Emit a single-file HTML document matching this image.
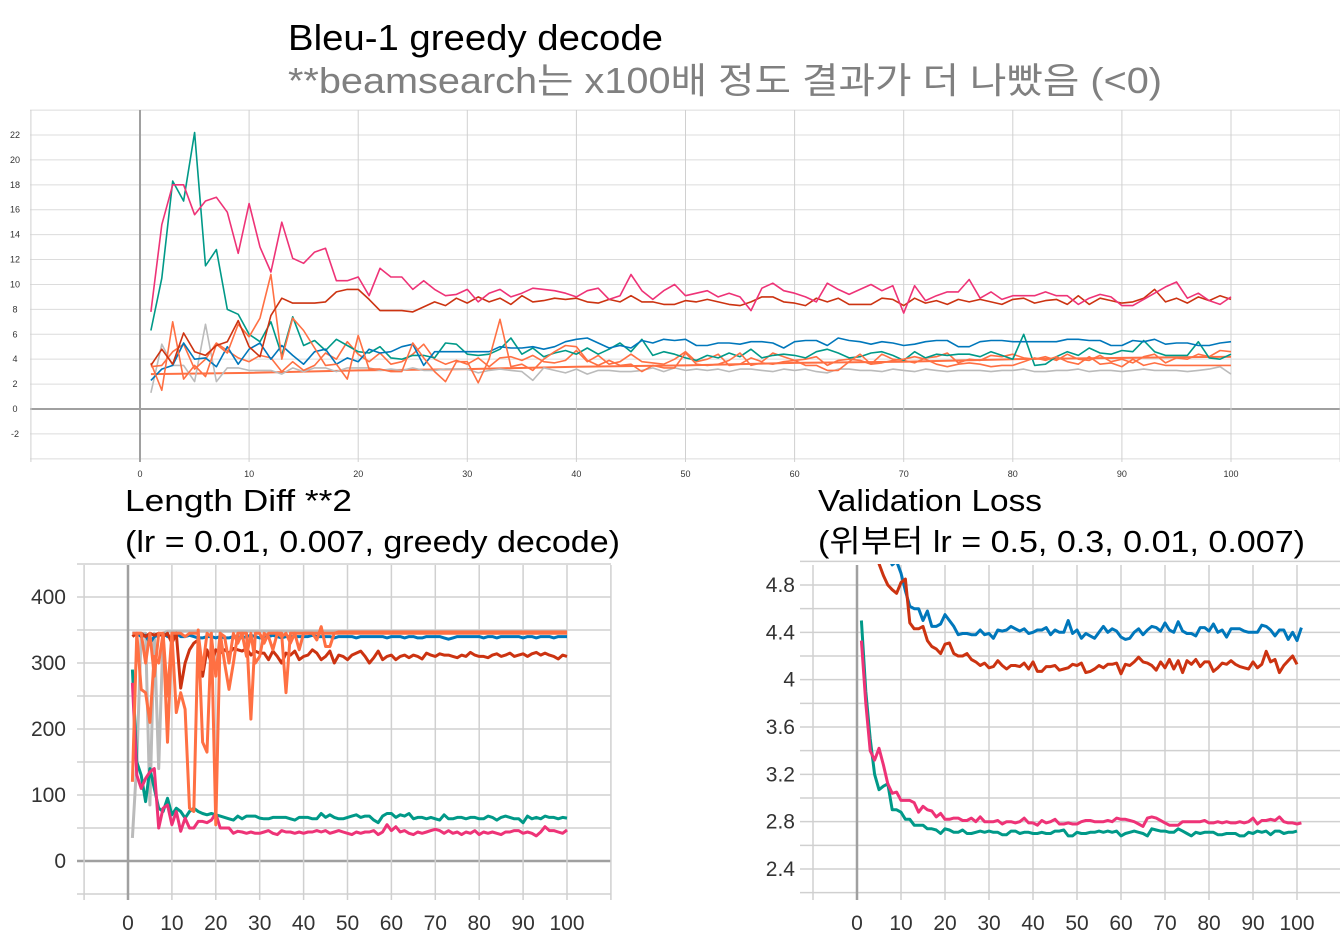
<!DOCTYPE html>
<html><head><meta charset="utf-8">
<style>
html,body{margin:0;padding:0;background:#fff;width:1340px;height:935px;overflow:hidden}
svg{display:block}
text{font-family:"Liberation Sans","Noto Sans CJK KR",sans-serif}
</style></head>
<body>
<svg id="root" width="1340" height="935" viewBox="0 0 1340 935">
  <g>
    <text x="288" y="50" font-size="36" fill="#000" textLength="375" lengthAdjust="spacingAndGlyphs">Bleu-1 greedy decode</text>
    <text x="288" y="93" font-size="36" fill="#808080" textLength="874" lengthAdjust="spacingAndGlyphs">**beamsearch는 x100배 정도 결과가 더 나빴음 (&lt;0)</text>
    <text x="125" y="511" font-size="31" fill="#000" textLength="227" lengthAdjust="spacingAndGlyphs">Length Diff **2</text>
    <text x="125" y="552" font-size="31" fill="#000" textLength="495" lengthAdjust="spacingAndGlyphs">(lr = 0.01, 0.007, greedy decode)</text>
    <text x="818" y="511" font-size="31" fill="#000" textLength="224" lengthAdjust="spacingAndGlyphs">Validation Loss</text>
    <text x="818" y="552" font-size="31" fill="#000" textLength="487" lengthAdjust="spacingAndGlyphs">(위부터 lr = 0.5, 0.3, 0.01, 0.007)</text>
  </g>
  <g id="c1"></g>
  <g id="c2"></g>
  <g id="c3"></g>
  <defs>
    <clipPath id="clip3"><rect x="813" y="564" width="527" height="335"/></clipPath>
    <clipPath id="clip2"><rect x="84" y="564" width="527" height="335"/></clipPath>
  </defs>
</svg>
<script>
// ---------- Chart 1: Bleu-1 ----------
const bleuYTicks = [-2,0,2,4,6,8,10,12,14,16,18,20,22];
const bleuXTicks = [0,10,20,30,40,50,60,70,80,90,100];
const bleuPink = [7.8,14.8,18,18,15.6,16.7,17,15.8,12.5,16.5,13,11,15,12.1,11.7,12.6,12.9,10.3,10.3,10.6,9.1,11.3,10.6,10.6,9.6,10.3,9.6,9.1,9.2,9.6,
 8.6,9.3,9.6,9.0,9.3,9.7,9.6,9.5,9.3,9.0,9.5,9.7,8.8,9.1,10.8,9.5,8.8,9.5,10.0,9.1,9.3,9.5,9.0,9.3,9.0,7.9,9.7,10.1,9.5,9.3,
 9.0,8.6,10.1,9.6,9.2,9.6,10.0,9.5,9.9,7.7,9.9,8.7,9.1,9.4,9.4,10.4,8.9,9.4,8.8,9.1,9.1,9.1,9.4,9.1,9.1,8.4,8.9,9.2,9.0,8.3,
 8.3,8.8,9.3,9.8,10.2,8.9,9.3,8.7,8.4,9.0];
const bleuRed = [3.5,4.8,3.6,6.1,4.6,4.3,5.1,5.4,7.1,5.0,4.2,7.5,8.9,8.5,8.5,8.5,8.6,9.4,9.6,9.6,8.8,7.9,7.9,7.9,7.8,8.2,8.6,8.3,8.9,8.5,
 9.0,8.6,8.9,8.4,9.1,8.6,8.7,8.9,8.8,8.9,8.6,8.5,8.8,8.6,9.1,8.6,8.6,8.4,8.4,8.7,8.6,8.8,8.6,8.4,8.3,8.6,9.0,9.0,8.6,8.5,
 8.3,8.9,8.6,8.9,8.4,8.4,8.4,8.9,8.8,8.3,8.9,8.5,8.7,8.4,8.8,8.6,8.8,8.6,8.4,8.8,8.9,8.5,8.7,8.8,8.4,9.1,8.4,8.9,8.7,8.5,
 8.6,8.9,9.6,8.6,8.9,8.5,9.0,8.7,9.1,8.8];
const bleuTeal = [6.3,10.5,18.3,16.7,22.2,11.5,12.8,8.0,7.6,6.0,5.4,7.0,4.3,7.4,5.1,5.5,4.7,5.6,5.1,4.6,4.5,5.0,4.1,4.0,4.3,4.3,4.1,5.3,5.2,4.4,
 4.3,4.4,4.8,5.7,4.4,4.9,4.2,4.5,4.7,4.4,4.9,4.4,4.8,5.3,4.6,5.6,4.3,4.6,4.4,4.1,3.9,4.3,4.1,4.5,4.2,4.8,4.1,4.3,4.4,4.3,
 4.1,4.6,4.8,4.5,4.1,4.2,4.5,4.6,4.3,3.9,4.6,4.1,4.4,4.3,4.4,4.4,4.2,4.6,4.3,4.0,6.0,3.5,3.6,4.2,4.6,4.3,4.9,4.5,4.4,4.7,
 4.6,5.5,4.6,4.3,4.3,4.3,5.4,4.1,4.0,4.4];
const bleuBlue = [2.3,3.2,3.5,5.3,4.0,4.1,3.4,5.0,3.6,4.8,5.3,4.0,5.1,4.3,3.6,4.6,4.8,3.6,4.1,3.8,4.8,4.5,4.6,5.0,5.2,3.5,4.6,4.6,4.6,4.6,
 4.6,4.6,5.0,4.9,4.9,5.0,4.8,5.0,5.4,5.6,5.7,5.3,4.9,5.1,4.9,5.5,5.3,5.6,5.5,5.6,5.1,5.1,5.3,5.3,5.2,5.4,5.4,5.3,4.9,5.4,
 5.5,5.5,5.1,5.7,5.5,5.4,5.2,5.4,5.3,5.1,5.2,5.4,5.5,5.5,5.0,5.0,5.4,5.5,5.5,5.4,5.4,5.4,5.4,5.4,5.6,5.6,5.5,5.5,5.1,5.1,
 5.5,5.4,5.6,5.2,5.3,5.3,5.1,5.1,5.3,5.4];
const bleuGray = [1.3,5.2,3.5,3.5,2.2,6.8,2.2,3.3,3.3,3.1,3.1,3.1,2.8,3.3,3.0,3.3,3.3,3.0,3.3,3.3,3.3,3.1,3.2,3.1,3.3,3.1,3.1,3.2,3.2,3.2,
 2.9,3.1,3.2,3.1,3.0,2.3,3.3,3.1,2.9,3.2,2.8,3.1,3.1,3.0,3.0,3.1,3.3,3.0,3.3,3.1,3.2,3.1,3.2,3.0,3.2,3.2,3.1,3.0,3.2,3.1,
 3.2,3.0,2.9,3.2,3.2,3.1,3.1,3.0,3.2,3.1,3.0,3.2,3.1,3.0,3.1,3.1,3.1,3.0,3.1,3.1,3.2,3.0,3.0,3.1,3.1,3.2,3.0,3.1,3.1,3.0,
 3.1,3.2,3.1,3.1,3.1,3.0,3.1,3.2,3.4,2.8];
const bleuOrange1 = [3.7,1.5,7.0,2.4,3.5,2.6,5.2,4.5,6.8,5.8,7.3,10.8,4.0,7.3,6.3,4.9,3.5,3.6,2.4,5.9,3.2,3.2,3.0,3.0,5.3,4.1,3.0,2.2,3.8,3.8,
 2.1,4.0,7.2,3.4,3.6,3.1,4.0,4.6,5.1,5.0,3.9,3.5,3.9,3.5,3.6,3.0,3.5,3.3,3.3,4.5,3.6,3.5,3.6,3.9,4.5,3.5,3.7,3.6,3.8,3.9,
 3.5,3.5,3.1,3.1,3.8,4.4,3.6,3.7,3.9,4.0,4.2,4.0,3.6,3.4,3.6,3.7,3.6,3.4,3.5,3.5,3.8,4.1,3.9,4.2,3.8,3.6,4.2,3.6,3.7,3.4,
 4.0,3.5,3.7,3.5,3.5,3.5,3.5,3.5,3.5,3.5];
const bleuOrange2 = [3.4,3.5,4.6,5.2,3.2,4.0,5.3,4.7,4.1,3.8,4.3,4.1,3.0,3.8,3.1,3.5,4.5,4.0,5.4,4.4,3.8,4.5,3.6,3.8,4.4,5.2,4.0,3.6,3.9,3.6,
 4.1,3.4,4.1,4.2,3.9,4.3,3.8,3.7,3.9,4.7,3.8,4.3,3.6,3.8,4.4,3.8,3.7,3.6,4.0,4.6,3.8,4.0,4.4,3.5,3.6,4.1,3.8,4.5,4.2,3.9,
 4.0,4.2,3.5,3.9,4.0,3.9,3.6,4.4,4.0,3.9,3.7,4.1,4.2,4.5,3.7,4.0,3.9,4.3,4.2,4.4,4.1,4.0,4.2,3.9,4.4,4.0,3.9,4.3,3.8,4.0,
 3.7,4.2,4.4,3.7,4.1,4.0,4.4,4.2,4.7,4.6];
const bleuOrangeFlatX = [1,10,20,30,40,50,60,70,80,90,100];
const bleuOrangeFlat = [2.8,2.9,3.1,3.2,3.4,3.5,3.7,3.8,4.0,4.1,4.2];

// ---------- Chart 2: Length Diff ----------
const lenYTicks = [0,100,200,300,400];
const lenXTicks = [0,10,20,30,40,50,60,70,80,90,100];
const lenBlue = [345,345,340,342,330,340,342,345,340,338,345,340,340,342,340,338,338,340,340,338,340,338,338,340,340,338,340,342,340,338,
 340,340,342,340,338,340,340,340,340,340,340,342,340,340,340,340,338,340,340,340,340,338,340,340,340,340,340,340,338,340,
 340,340,338,340,340,338,338,340,340,340,340,338,336,338,340,340,340,340,340,340,338,340,340,338,340,340,340,340,340,338,
 340,340,338,340,340,340,338,340,340,340];
const lenGray = [35,150,345,345,85,345,140,345,348,348,348,348,348,348,348,348,348,348,348,348,348,348,348,348,348,348,348,348,348,348,
 348,348,348,348,348,348,348,348,348,348,348,348,348,348,348,348,348,348,348,348,348,348,348,348,348,348,348,348,348,348,
 348,348,348,348,348,348,348,348,348,348,348,348,348,348,348,348,348,348,348,348,348,348,348,348,348,348,348,348,348,348,
 348,348,348,348,348,348,348,348,348,348];
const lenRed = [340,345,345,340,345,342,345,340,345,330,345,262,300,320,330,335,280,320,300,320,315,320,315,322,320,318,322,312,318,315,
 315,305,318,310,300,315,312,318,305,310,312,320,315,305,310,318,300,312,310,305,312,315,318,310,300,308,318,305,310,312,
 305,310,312,308,312,310,306,315,312,310,314,312,312,310,308,312,310,316,312,310,310,308,312,314,310,312,315,310,312,314,
 310,314,316,312,315,312,310,306,312,310];
const lenOrangeA = [120,345,260,255,210,310,300,345,180,345,225,255,230,80,75,350,180,165,345,55,345,300,260,300,345,345,345,215,345,345,
 330,345,345,345,345,255,345,345,345,345,345,345,345,345,345,345,345,345,345,345,345,345,345,345,345,345,345,345,345,345,
 345,345,345,345,345,345,345,345,345,345,345,345,345,345,345,345,345,345,345,345,345,345,345,345,345,345,345,345,345,345,
 345,345,345,345,345,345,345,345,345,345];
const lenOrangeB = [345,345,345,300,345,280,345,345,250,345,345,345,340,345,345,345,290,345,340,280,345,340,300,345,330,345,310,345,300,310,
 345,340,320,345,340,345,330,345,320,345,345,345,335,355,325,325,345,347,347,347,347,347,347,347,347,347,347,347,347,347,
 347,347,347,347,347,347,347,347,347,347,347,347,347,347,347,347,347,347,347,347,347,347,347,347,347,347,347,347,347,347,
 347,347,347,347,347,347,347,347,347,347];
const lenTeal = [290,150,130,90,140,110,80,75,95,70,80,75,65,75,80,75,72,70,72,70,68,66,64,62,68,64,68,68,68,65,
 64,64,66,66,66,66,64,62,66,66,66,64,64,72,66,70,66,64,64,66,68,70,66,68,68,62,58,68,72,72,66,70,68,72,64,66,66,64,66,64,
 62,70,64,64,66,66,64,66,66,64,64,68,66,62,66,68,66,64,64,58,68,64,66,64,68,66,66,64,66,65];
const lenPink = [270,130,110,125,135,140,50,80,85,55,75,45,65,50,50,60,60,58,62,72,50,50,50,42,45,44,42,44,42,42,
 44,46,42,40,46,44,44,42,44,42,44,44,46,44,46,42,44,46,44,42,40,44,42,44,44,46,40,44,55,46,52,44,46,42,40,44,42,44,46,48,
 46,42,46,42,44,40,44,42,46,40,44,42,44,42,40,44,44,46,46,42,44,42,38,44,52,46,46,44,42,47];

// ---------- Chart 3: Validation Loss ----------
const valYTicks = ["2.4","2.8","3.2","3.6","4","4.4","4.8"];
const valXTicks = [0,10,20,30,40,50,60,70,80,90,100];
const valBlue = [7.2,6.4,5.9,5.6,5.4,5.2,5.05,4.97,5.0,4.9,4.75,4.62,4.6,4.6,4.5,4.58,4.45,4.45,4.47,4.55,4.5,4.45,4.38,4.39,4.39,4.38,4.38,4.42,4.38,4.39,
 4.35,4.42,4.41,4.42,4.45,4.43,4.41,4.43,4.39,4.4,4.42,4.42,4.44,4.38,4.42,4.4,4.4,4.5,4.39,4.42,4.35,4.39,4.37,4.35,4.4,4.45,4.4,4.43,4.41,4.36,
 4.34,4.35,4.4,4.43,4.38,4.42,4.45,4.44,4.41,4.48,4.42,4.4,4.49,4.41,4.39,4.39,4.37,4.44,4.44,4.41,4.47,4.4,4.42,4.36,4.43,4.43,4.43,4.41,4.4,4.4,
 4.4,4.46,4.45,4.42,4.37,4.42,4.42,4.34,4.4,4.33,4.44];
const valRed = [6.6,5.9,5.4,5.1,4.98,4.88,4.8,4.76,4.73,4.82,4.85,4.48,4.43,4.43,4.45,4.33,4.28,4.26,4.22,4.3,4.31,4.22,4.2,4.2,4.22,4.17,4.15,4.12,4.14,4.1,
 4.11,4.16,4.12,4.09,4.12,4.12,4.11,4.14,4.09,4.15,4.07,4.07,4.11,4.11,4.12,4.08,4.09,4.1,4.13,4.12,4.14,4.06,4.07,4.09,4.12,4.1,4.13,4.13,4.14,4.05,
 4.13,4.12,4.15,4.19,4.15,4.14,4.12,4.08,4.15,4.1,4.17,4.09,4.16,4.06,4.16,4.13,4.17,4.11,4.15,4.15,4.07,4.1,4.14,4.13,4.16,4.13,4.11,4.1,4.09,4.15,
 4.1,4.13,4.24,4.15,4.17,4.06,4.12,4.16,4.2,4.13];
const valTeal = [4.5,3.9,3.5,3.2,3.07,3.1,3.12,2.9,2.9,2.88,2.82,2.82,2.77,2.77,2.77,2.74,2.74,2.73,2.7,2.74,2.73,2.71,2.71,2.73,2.7,2.7,2.71,2.72,2.71,2.72,
 2.71,2.71,2.69,2.69,2.72,2.72,2.7,2.71,2.71,2.7,2.7,2.71,2.7,2.7,2.72,2.72,2.73,2.68,2.68,2.71,2.7,2.7,2.71,2.71,2.72,2.71,2.72,2.71,2.72,2.68,
 2.7,2.71,2.72,2.71,2.7,2.68,2.74,2.73,2.72,2.72,2.71,2.71,2.74,2.72,2.7,2.68,2.71,2.7,2.71,2.71,2.71,2.69,2.69,2.7,2.7,2.7,2.68,2.68,2.71,2.7,
 2.72,2.71,2.72,2.69,2.72,2.72,2.7,2.71,2.71,2.72];
const valPink = [4.33,3.8,3.4,3.32,3.42,3.28,3.12,3.04,3.05,2.98,2.98,2.98,2.96,2.88,2.93,2.9,2.89,2.84,2.87,2.82,2.82,2.83,2.83,2.81,2.81,2.83,2.8,2.84,2.8,2.8,
 2.8,2.81,2.78,2.8,2.8,2.79,2.8,2.83,2.79,2.79,2.77,2.81,2.79,2.8,2.82,2.78,2.78,2.79,2.78,2.78,2.8,2.81,2.81,2.8,2.8,2.8,2.81,2.8,2.83,2.82,
 2.82,2.81,2.8,2.78,2.76,2.83,2.84,2.83,2.81,2.79,2.77,2.77,2.77,2.8,2.8,2.8,2.8,2.8,2.81,2.79,2.79,2.8,2.79,2.8,2.79,2.79,2.8,2.79,2.8,2.83,
 2.78,2.81,2.81,2.82,2.81,2.84,2.8,2.79,2.79,2.78,2.79];

const NS = 'http://www.w3.org/2000/svg';
function mk(parent, tag, attrs) {
  const el = document.createElementNS(NS, tag);
  for (const k in attrs) el.setAttribute(k, attrs[k]);
  parent.appendChild(el);
  return el;
}
function linear(d0, d1, r0, r1) { return v => r0 + (v - d0) * (r1 - r0) / (d1 - d0); }
function drawSeries(g, xs, ys, xS, yS, color, w, name, clip) {
  const pts = ys.map((v, i) => xS(xs ? xs[i] : i + 1).toFixed(1) + ',' + yS(v).toFixed(1)).join(' ');
  const attrs = { points: pts, fill: 'none', stroke: color, 'stroke-width': w, 'stroke-linejoin': 'round' };
  if (clip) attrs['clip-path'] = clip;
  const el = mk(g, 'polyline', attrs);
  
  
}

// ---- Chart 1 ----
(function () {
  const g = document.getElementById('c1');
  const xS = linear(0, 100, 140, 1231);
  const yS = linear(0, 22, 409, 135);
  for (let v = -4; v <= 24; v += 2) {
    const y = yS(v); if (y < 108 || y > 462) continue;
    const el = mk(g, 'line', { x1: 30, x2: 1340, y1: y, y2: y, stroke: v === 0 ? '#a0a0a0' : '#dcdcdc', 'stroke-width': v === 0 ? 2 : 1 });
    
    
  }
  for (let v = -10; v <= 110; v += 10) {
    const x = xS(v);
    const el = mk(g, 'line', { x1: x, x2: x, y1: 110, y2: 462, stroke: v === 0 ? '#a0a0a0' : '#d0d0d0', 'stroke-width': v === 0 ? 2 : 1 });
    
    
  }
  bleuYTicks.forEach(v => {
    const t = mk(g, 'text', { x: 15, y: yS(v) + 3, 'font-size': 9, fill: '#333', 'text-anchor': 'middle' });
    t.textContent = v;
    
    
  });
  bleuXTicks.forEach(v => {
    const t = mk(g, 'text', { x: xS(v), y: 477, 'font-size': 9, fill: '#333', 'text-anchor': 'middle' });
    t.textContent = v;
    
    
  });
  drawSeries(g, bleuOrangeFlatX, bleuOrangeFlat, xS, yS, '#ff7043', 2, 'bleu-series-orange-flat');
  drawSeries(g, null, bleuGray, xS, yS, '#bbbbbb', 1.6, 'bleu-series-gray');
  drawSeries(g, null, bleuOrange2, xS, yS, '#ff7043', 1.6, 'bleu-series-orange-2');
  drawSeries(g, null, bleuTeal, xS, yS, '#009988', 1.6, 'bleu-series-teal');
  drawSeries(g, null, bleuBlue, xS, yS, '#0077bb', 1.6, 'bleu-series-blue');
  drawSeries(g, null, bleuOrange1, xS, yS, '#ff7043', 1.6, 'bleu-series-orange-1');
  drawSeries(g, null, bleuRed, xS, yS, '#cc3311', 1.6, 'bleu-series-red');
  drawSeries(g, null, bleuPink, xS, yS, '#ee3377', 1.6, 'bleu-series-pink');
})();

// ---- Chart 2 ----
(function () {
  const g = document.getElementById('c2');
  const xS = linear(0, 100, 128, 567);
  const yS = linear(0, 400, 861, 597);
  for (let v = -50; v <= 450; v += 50) {
    const y = yS(v); if (y < 560 || y > 900) continue;
    const el = mk(g, 'line', { x1: 77, x2: 611, y1: y, y2: y, stroke: v === 0 ? '#a0a0a0' : '#d0d0d0', 'stroke-width': v === 0 ? 2.5 : 1.5 });
    
    
  }
  for (let v = -10; v <= 110; v += 10) {
    const x = xS(v);
    const el = mk(g, 'line', { x1: x, x2: x, y1: 565, y2: 900, stroke: v === 0 ? '#a0a0a0' : '#d0d0d0', 'stroke-width': v === 0 ? 2.5 : 1.5 });
    
    
  }
  lenYTicks.forEach(v => {
    const t = mk(g, 'text', { x: 66, y: yS(v) + 7, 'font-size': 21, fill: '#333', 'text-anchor': 'end' });
    t.textContent = v;
    
    
  });
  lenXTicks.forEach(v => {
    const t = mk(g, 'text', { x: xS(v), y: 930, 'font-size': 21, fill: '#333', 'text-anchor': 'middle' });
    t.textContent = v;
    
    
  });
  drawSeries(g, null, lenGray, xS, yS, '#bbbbbb', 3, 'length-series-gray', 'url(#clip2)');
  drawSeries(g, null, lenBlue, xS, yS, '#0077bb', 3, 'length-series-blue', 'url(#clip2)');
  drawSeries(g, null, lenRed, xS, yS, '#cc3311', 3, 'length-series-red', 'url(#clip2)');
  drawSeries(g, null, lenTeal, xS, yS, '#009988', 3, 'length-series-teal', 'url(#clip2)');
  drawSeries(g, null, lenPink, xS, yS, '#ee3377', 3, 'length-series-pink', 'url(#clip2)');
  drawSeries(g, null, lenOrangeB, xS, yS, '#ff7043', 3, 'length-series-orange-b', 'url(#clip2)');
  drawSeries(g, null, lenOrangeA, xS, yS, '#ff7043', 3, 'length-series-orange-a', 'url(#clip2)');
})();

// ---- Chart 3 ----
(function () {
  const g = document.getElementById('c3');
  const xS = linear(0, 100, 857, 1297);
  const yS = linear(2.4, 4.8, 869, 585);
  for (let i = 11; i <= 25; i++) {
    const v = i / 5;
    const y = yS(v); if (y < 560 || y > 900) continue;
    const el = mk(g, 'line', { x1: 800, x2: 1340, y1: y, y2: y, stroke: '#d0d0d0', 'stroke-width': 1.5 });
    
    
  }
  for (let v = -10; v <= 110; v += 10) {
    const x = xS(v);
    const el = mk(g, 'line', { x1: x, x2: x, y1: 565, y2: 900, stroke: v === 0 ? '#a0a0a0' : '#d0d0d0', 'stroke-width': v === 0 ? 2.5 : 1.5 });
    
    
  }
  valYTicks.forEach(s => {
    const t = mk(g, 'text', { x: 795, y: yS(parseFloat(s)) + 7, 'font-size': 21, fill: '#333', 'text-anchor': 'end' });
    t.textContent = s;
    
    
  });
  valXTicks.forEach(v => {
    const t = mk(g, 'text', { x: xS(v), y: 930, 'font-size': 21, fill: '#333', 'text-anchor': 'middle' });
    t.textContent = v;
    
    
  });
  drawSeries(g, null, valBlue, xS, yS, '#0077bb', 3, 'loss-series-blue', 'url(#clip3)');
  drawSeries(g, null, valRed, xS, yS, '#cc3311', 3, 'loss-series-red', 'url(#clip3)');
  drawSeries(g, null, valTeal, xS, yS, '#009988', 3, 'loss-series-teal', 'url(#clip3)');
  drawSeries(g, null, valPink, xS, yS, '#ee3377', 3, 'loss-series-pink', 'url(#clip3)');
})();
</script>
</body></html>
